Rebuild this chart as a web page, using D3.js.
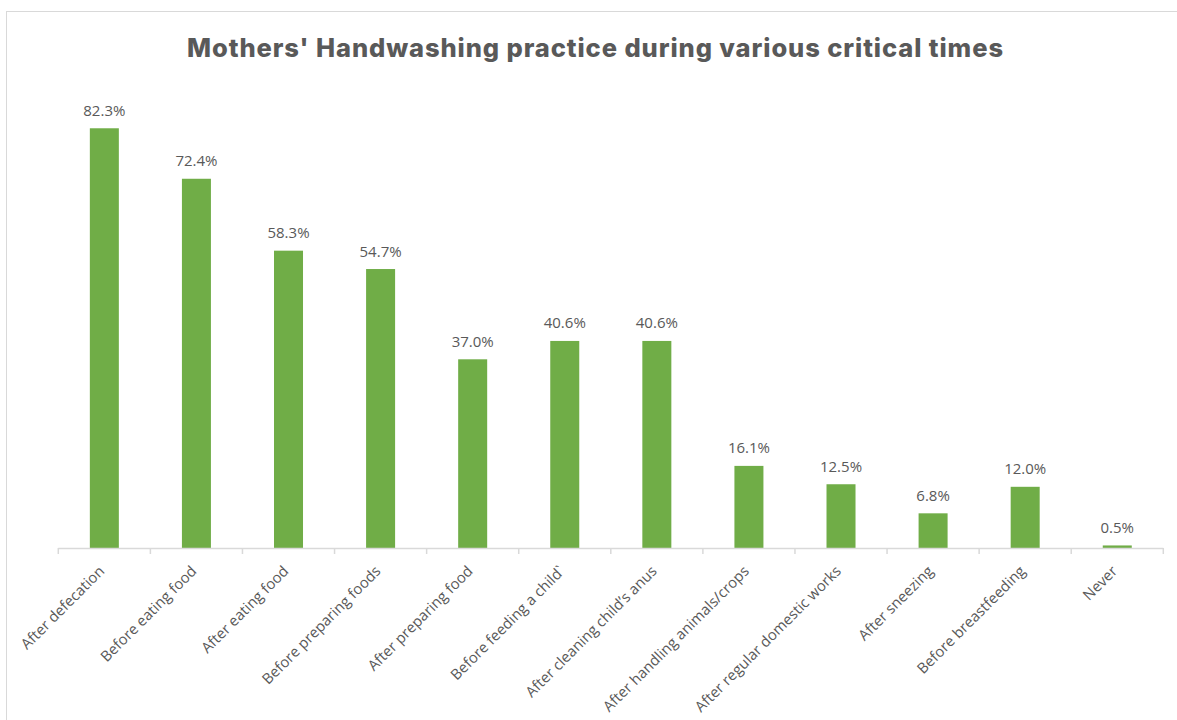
<!DOCTYPE html>
<html>
<head>
<meta charset="utf-8">
<script src="https://cdn.jsdelivr.net/npm/d3@7"></script>
<style>
  html, body { margin: 0; padding: 0; background: #fff; }
  svg { display: block; }
</style>
</head>
<body>
<svg id="chart" width="1177" height="720"></svg>
<script>
// Critical times and share of mothers washing hands at each
const categories = [
  "After defecation",
  "Before eating food",
  "After eating food",
  "Before preparing foods",
  "After preparing food",
  "Before feeding a child`",
  "After cleaning child\u2019s anus",
  "After handling animals/crops",
  "After regular domestic works",
  "After sneezing",
  "Before breastfeeding",
  "Never"
];
const values = [82.3, 72.4, 58.3, 54.7, 37.0, 40.6, 40.6, 16.1, 12.5, 6.8, 12.0, 0.5];
const title = "Mothers' Handwashing practice during various critical times";

const svg = d3.select("#chart");
const W = 1177, H = 720;

// Chart area frame
svg.append("rect")
  .attr("x", 6.5).attr("y", 11.5)
  .attr("width", W + 20).attr("height", H + 20)
  .attr("fill", "#fff")
  .attr("stroke", "#d9d9d9")
  .attr("stroke-width", 1);

const plot = { left: 58.3, right: 1163.3, top: 89, bottom: 548 };

const x = d3.scaleBand()
  .domain(categories)
  .range([plot.left, plot.right])
  .padding(0);

const y = d3.scaleLinear()
  .domain([0, 90])
  .range([plot.bottom, plot.top]);

const barW = x.bandwidth() * 0.315;
const data = categories.map((c, i) => ({ c, v: values[i] }));

// Bars
svg.append("g")
  .selectAll("rect")
  .data(data)
  .join("rect")
  .attr("x", d => x(d.c) + x.bandwidth() / 2 - barW / 2)
  .attr("y", d => y(d.v))
  .attr("width", barW)
  .attr("height", d => y(0) - y(d.v))
  .attr("fill", "#70ad47");

// Value labels
svg.append("g")
  .selectAll("text")
  .data(data)
  .join("text")
  .attr("x", d => x(d.c) + x.bandwidth() / 2)
  .attr("y", d => y(d.v) - 12.5)
  .attr("text-anchor", "middle")
  .attr("font-family", "'Open Sans', sans-serif")
  .attr("font-size", 15)
  .attr("fill", "#595959")
  .text(d => d.v.toFixed(1) + "%");

// Category axis with tick marks on band boundaries
const axisG = svg.append("g")
  .attr("transform", `translate(0,${plot.bottom})`);

axisG.append("line")
  .attr("x1", plot.left).attr("x2", plot.right)
  .attr("y1", 0.5).attr("y2", 0.5)
  .attr("stroke", "#d9d9d9")
  .attr("stroke-width", 1.5);

const tickPos = categories.map(c => x(c)).concat([plot.right]);
axisG.selectAll("line.tick")
  .data(tickPos)
  .join("line")
  .attr("class", "tick")
  .attr("x1", d => d).attr("x2", d => d)
  .attr("y1", 0).attr("y2", 6)
  .attr("stroke", "#d9d9d9")
  .attr("stroke-width", 1.5);

axisG.selectAll("text")
  .data(categories)
  .join("text")
  .attr("transform", d => `translate(${x(d) + x.bandwidth() / 2 + 1},${24}) rotate(-45)`)
  .attr("text-anchor", "end")
  .attr("font-family", "'Open Sans', sans-serif")
  .attr("font-size", 14.8)
  .attr("fill", "#595959")
  .text(d => d);

// Title
svg.append("text")
  .attr("x", 595)
  .attr("y", 56.7)
  .attr("text-anchor", "middle")
  .attr("font-family", "Inter, 'Noto Sans', sans-serif")
  .attr("font-weight", 800)
  .attr("font-size", 25.5)
  .attr("textLength", 816)
  .attr("lengthAdjust", "spacing")
  .attr("fill", "#595959")
  .text(title);
</script>
</body>
</html>
